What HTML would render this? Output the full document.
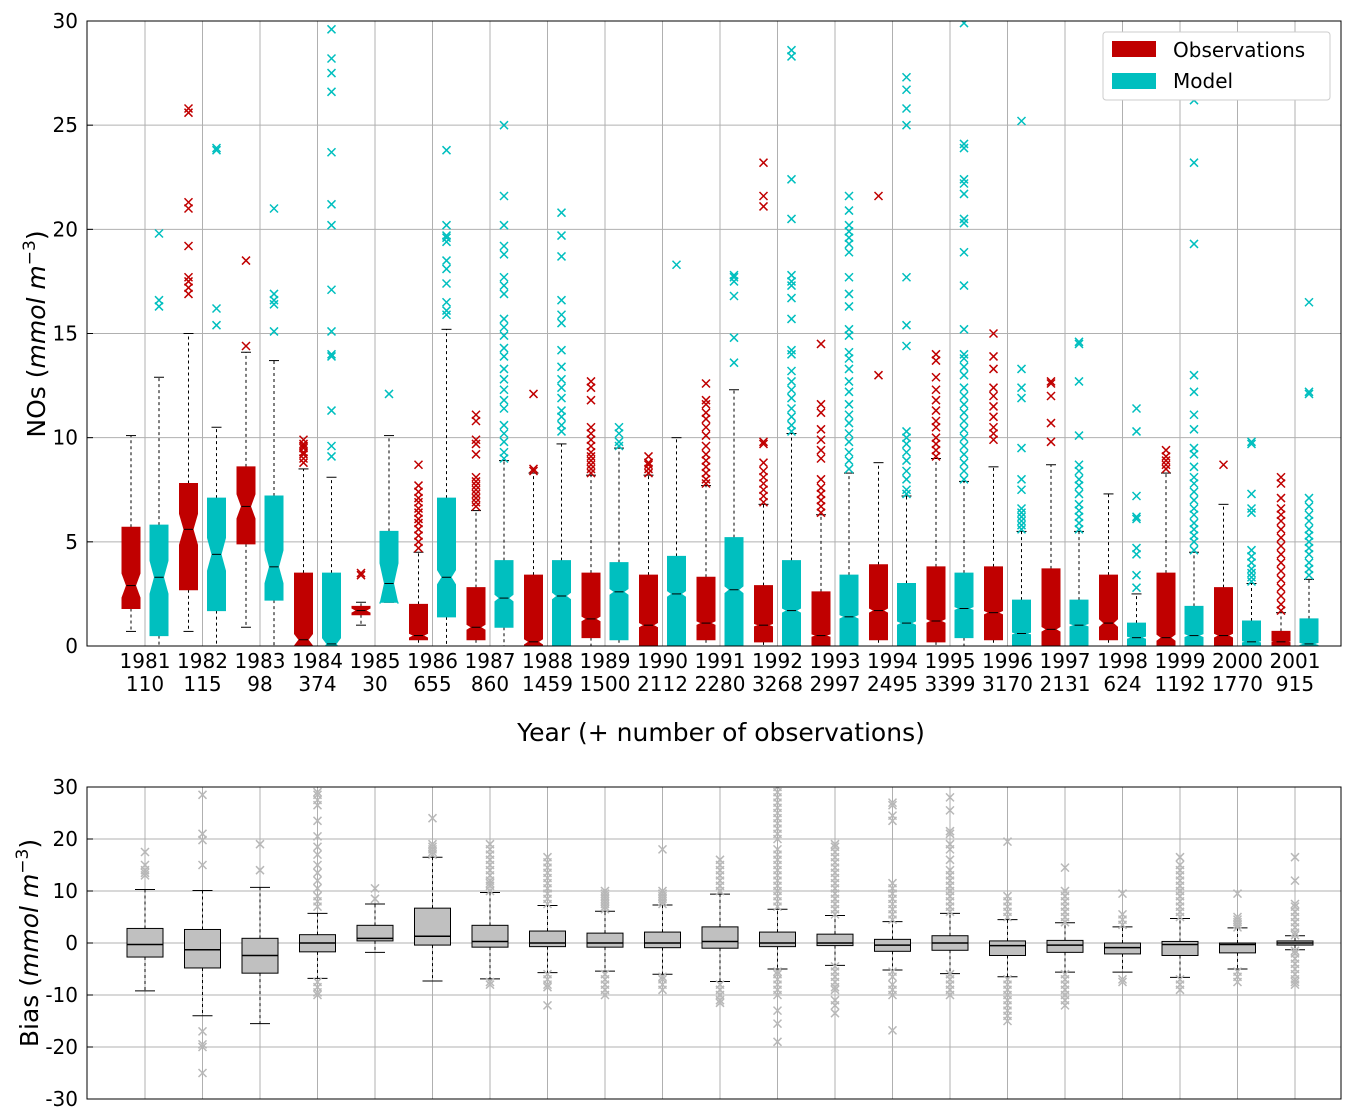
<!DOCTYPE html>
<html><head><meta charset="utf-8">
<style>
body{margin:0;background:#fff;}
svg{display:block;font-family:"DejaVu Sans","Liberation Sans",sans-serif;}
</style></head>
<body>
<svg id="chart" width="1356" height="1120" viewBox="0 0 1356 1120" xmlns="http://www.w3.org/2000/svg">
<defs>
<clipPath id="clipTop"><rect x="87" y="21" width="1254" height="625"/></clipPath>
<clipPath id="clipBot"><rect x="87" y="787" width="1254" height="312"/></clipPath>
</defs>
<g id="gridTop"></g>
<g id="gridBot"></g>
<g id="marksTop" clip-path="url(#clipTop)"></g>
<g id="marksBot" clip-path="url(#clipBot)"></g>
<rect x="87" y="21" width="1254" height="625" fill="none" stroke="#000" stroke-width="1"/>
<rect x="87" y="787" width="1254" height="312" fill="none" stroke="#000" stroke-width="1"/>
<g id="axesText"></g>
<text x="721" y="741" font-size="25" text-anchor="middle">Year (+ number of observations)</text>
<text transform="translate(45,334) rotate(-90)" font-size="25" text-anchor="middle">NOs (<tspan font-style="italic">mmol m</tspan><tspan font-size="17" dy="-10">−3</tspan><tspan dy="10">)</tspan></text>
<text transform="translate(38,943) rotate(-90)" font-size="25" text-anchor="middle">Bias (<tspan font-style="italic">mmol m</tspan><tspan font-size="17" dy="-10">−3</tspan><tspan dy="10">)</tspan></text>
<g>
<rect x="1103" y="32" width="227" height="68" rx="3" fill="#fff" stroke="#ccc"/>
<rect x="1112" y="41" width="44" height="16" fill="#c00000"/>
<text x="1173" y="57" font-size="20">Observations</text>
<rect x="1112" y="73" width="44" height="16" fill="#00bfbf"/>
<text x="1173" y="88" font-size="20">Model</text>
</g>
</svg>
<script>
const years=[1981,1982,1983,1984,1985,1986,1987,1988,1989,1990,1991,1992,1993,1994,1995,1996,1997,1998,1999,2000,2001];
const nobs=[110,115,98,374,30,655,860,1459,1500,2112,2280,3268,2997,2495,3399,3170,2131,624,1192,1770,915];
const topTicks=[0,5,10,15,20,25,30];
const botTicks=[-30,-20,-10,0,10,20,30];

const obsLo=[0.7,0.7,0.9,0,1.0,0,0,0,0,0,0,0,0,0,0,0,0,0,0,0,0];
const obsQ1=[1.8,2.7,4.9,0,1.5,0.3,0.3,0,0.4,0,0.3,0.2,0,0.3,0.2,0.3,0,0.3,0,0,0];
const obsMed=[2.9,5.6,6.7,0.3,1.7,0.5,0.9,0.2,1.3,1.0,1.1,1.0,0.5,1.7,1.2,1.6,0.8,1.1,0.4,0.5,0.2];
const obsQ3=[5.7,7.8,8.6,3.5,1.9,2.0,2.8,3.4,3.5,3.4,3.3,2.9,2.6,3.9,3.8,3.8,3.7,3.4,3.5,2.8,0.7];
const obsHi=[10.1,15.0,14.1,8.5,2.1,4.5,6.5,8.3,8.2,8.2,7.7,6.8,6.3,8.8,9.0,8.6,8.7,7.3,8.3,6.8,1.6];
const obsOut=[[],[16.9,17.2,17.5,17.7,19.2,21.0,21.3,25.6,25.8],[14.4,18.5],[8.8,9.0,9.2,9.3,9.5,9.6,9.7,9.9],[3.4,3.5],
[4.7,5.0,5.3,5.6,5.9,6.1,6.4,6.6,6.9,7.1,7.4,7.7,8.7],[6.7,6.9,7.1,7.3,7.5,7.7,7.9,8.1,9.2,9.7,9.9,10.8,11.1],[8.4,8.5,12.1],
[8.3,8.5,8.7,8.9,9.1,9.3,9.6,9.9,10.2,10.5,11.8,12.4,12.7],[8.3,8.5,8.7,8.8,9.1],
[7.8,8.0,8.3,8.6,8.9,9.2,9.6,10.1,10.5,10.9,11.2,11.6,11.8,12.6],[6.9,7.2,7.5,7.8,8.1,8.4,8.8,9.7,9.8,21.1,21.6,23.2],
[6.4,6.7,7.0,7.3,7.6,8.0,9.0,9.4,9.9,10.4,11.2,11.6,14.5],[13.0,21.6],[9.1,9.4,9.7,10.0,10.5,10.8,11.3,11.8,12.3,12.9,13.7,14.0],
[9.9,10.2,10.5,11.0,11.5,12.0,12.4,13.3,13.9,15.0],[9.8,10.7,12.0,12.6,12.7],[],[8.5,8.7,8.9,9.1,9.4],[8.7],
[1.7,2.0,2.4,2.8,3.2,3.6,4.0,4.4,4.8,5.2,5.6,6.0,6.3,6.6,7.1,7.8,8.1]];

const modLo=[0,0,0,0,2.1,0,0,0,0,0,0,0,0,0,0,0,0,0,0,0,0];
const modQ1=[0.5,1.7,2.2,0,2.1,1.4,0.9,0,0.3,0,0,0,0,0,0.4,0,0,0,0,0,0];
const modMed=[3.3,4.4,3.8,0.1,3.0,3.3,2.3,2.4,2.6,2.5,2.7,1.7,1.4,1.1,1.8,0.6,1.0,0.4,0.5,0.2,0.1];
const modQ3=[5.8,7.1,7.2,3.5,5.5,7.1,4.1,4.1,4.0,4.3,5.2,4.1,3.4,3.0,3.5,2.2,2.2,1.1,1.9,1.2,1.3];
const modHi=[12.9,10.5,13.7,8.1,10.1,15.2,8.9,9.7,9.5,10.0,12.3,10.2,8.3,7.2,7.9,5.5,5.5,2.5,4.5,3.0,3.2];
const modOut=[[16.3,16.6,19.8],[15.4,16.2,23.8,23.9],[15.1,16.4,16.6,16.9,21.0],
[9.1,9.6,11.3,13.9,14.0,15.1,17.1,20.2,21.2,23.7,26.6,27.5,28.2,29.6],[12.1],
[15.9,16.1,16.5,17.4,18.1,18.5,19.4,19.6,19.7,20.2,23.8],
[9.0,9.3,9.8,10.2,10.6,11.4,11.8,12.3,12.8,13.3,13.9,14.3,14.9,15.3,15.7,16.9,17.3,17.7,18.8,19.2,20.2,21.6,25.0],
[10.3,10.6,11.0,11.3,11.9,12.4,12.8,13.4,14.2,15.5,15.9,16.6,18.7,19.7,20.8],[9.6,9.8,10.2,10.5],[18.3],
[13.6,14.8,16.8,17.5,17.7,17.8],
[10.3,10.6,11.0,11.4,11.9,12.3,12.7,13.2,14.0,14.2,15.7,16.7,17.3,17.5,17.8,20.5,22.4,28.3,28.6],
[8.5,8.9,9.3,9.8,10.2,10.7,11.1,11.6,12.2,12.7,13.3,13.8,14.1,14.9,15.2,16.3,16.9,17.7,18.9,19.3,19.6,19.9,20.2,20.9,21.6],
[7.3,7.5,8.0,8.4,8.9,9.3,9.7,10.0,10.3,14.4,15.4,17.7,25.0,25.8,26.7,27.3],
[8.0,8.4,8.8,9.2,9.6,10.0,10.4,10.8,11.2,11.6,12.0,12.4,13.0,13.4,13.8,14.0,15.2,17.3,18.9,20.3,20.5,21.7,22.2,22.4,23.9,24.1,29.9],
[5.6,5.8,6.0,6.2,6.4,6.6,7.5,8.0,9.5,11.9,12.4,13.3,25.2],
[5.6,5.9,6.2,6.5,6.8,7.3,7.7,8.0,8.4,8.7,10.1,12.7,14.5,14.6],
[2.8,3.4,4.4,4.7,6.1,6.2,7.2,10.3,11.4],
[4.6,5.0,5.3,5.6,5.9,6.3,6.6,7.0,7.4,7.8,8.1,8.6,9.2,9.5,10.4,11.1,12.2,13.0,19.3,23.2,26.2],
[3.1,3.3,3.5,3.7,4.0,4.3,4.6,6.4,6.6,7.3,9.7,9.8],
[3.4,3.7,4.0,4.4,4.7,5.0,5.3,5.6,6.0,6.3,6.7,7.1,12.1,12.2,16.5]];

const biasLo=[-9.2,-14,-15.5,-6.8,-1.8,-7.3,-6.9,-5.7,-5.4,-6,-7.4,-5,-4.3,-5.2,-5.9,-6.5,-5.6,-5.6,-6.6,-5,-1.3];
const biasQ1=[-2.7,-4.8,-5.8,-1.7,0.4,-0.4,-0.8,-0.7,-0.8,-0.9,-1,-0.7,-0.5,-1.6,-1.4,-2.4,-1.8,-2.1,-2.4,-1.9,-0.4];
const biasMed=[-0.3,-1.3,-2.4,0,0.9,1.3,0.3,0,0,0,0.3,0,0,-0.4,0,-0.5,-0.4,-0.9,-0.3,-0.3,0];
const biasQ3=[2.8,2.6,0.9,1.6,3.4,6.7,3.4,2.3,1.9,2.1,3.1,2.1,1.7,0.7,1.4,0.4,0.5,0,0.3,0,0.4];
const biasHi=[10.3,10.1,10.7,5.7,7.5,16.5,9.7,7.2,6.1,7.3,9.4,6.5,5.3,4.1,5.7,4.5,3.9,3.1,4.7,2.9,1.4];
const biasOut=[[13,13.5,14,15,17.5],[15,19.8,21,28.5,-17,-19.5,-20,-25],[14,19],
[7,8,9,10.5,12,13.5,15,17,18.5,20.5,23.5,26.5,27.5,28.5,29,-7.5,-8.5,-9.5,-10],[8.5,10.5],[17,17.5,18,18.5,19,24],
[10,11,11.5,12,13,14,15,16,17,18,19,-7.5,-8],
[7.5,8.5,9.5,10.5,11.5,12.5,13.5,14.5,15.5,16.5,-6,-7,-8,-8.5,-12],
[6.5,7,7.5,8,8.5,9,9.5,10,-6,-7,-8,-9,-10],[7.5,8,8.5,9,9.5,10,18,-6.5,-7,-8,-9],
[10,11,12,13,14,15,16,-8,-9,-10,-11,-11.5],
[7,8,9,10,11,12,13,14,15,16,17,18,20,21,22,23,24,25,26,27,28,29,30,-5.5,-6,-7,-8,-9,-10,-13,-15.5,-19],
[5.5,6.5,7.5,8.5,9.5,10.5,11.5,12.5,13.5,14.5,15.5,16.5,17.5,18.5,19,-4.5,-5.5,-6.5,-7.5,-8.5,-9,-11,-12,-13.5],
[4.5,5.5,6.5,7.5,8.5,9.5,10.5,11.5,23.5,24.5,26.5,27,-5.5,-6.5,-8,-9,-10,-16.8],
[6,7,8,9,10,11,12,13,14,16,18,19,21,21.5,25.5,28,-6,-7,-8,-9,-10],
[5,6,7,8,9,19.5,-7,-8,-9,-10,-11,-12,-13,-14,-15],
[4,5,6,7,8,9,10,14.5,-6,-7,-8,-9,-10,-11,-12],[3.5,4.5,5.5,9.5,-7,-7.5],
[5,6,7,8,9,10,11,12,13,14,15,16.5,-7,-8,-9],[3,3.5,4,4.5,5,9.5,-5.5,-6.5,-7.5],
[1.5,2,3,4,5,6,7,7.5,12,16.5,-1.5,-2,-3,-4,-5,-6,-7,-7.5,-8]];

const NS="http://www.w3.org/2000/svg";
function xPos(i){return 145+i*57.5;}
function yTop(v){return 646-v*(625/30);}
function yBot(v){return 943-v*(312/60);}
function mk(tag,attrs,parent){const e=document.createElementNS(NS,tag);for(const k in attrs)e.setAttribute(k,attrs[k]);parent.appendChild(e);return e;}

const gT=document.getElementById('gridTop'),gB=document.getElementById('gridBot');
const mT=document.getElementById('marksTop'),mB=document.getElementById('marksBot');
const ax=document.getElementById('axesText');

years.forEach((yr,i)=>{
  const x=xPos(i);
  let l=mk('line',{x1:x,x2:x,y1:21,y2:646,stroke:'#b0b0b0','stroke-width':1},gT);
  
  
  l=mk('line',{x1:x,x2:x,y1:787,y2:1099,stroke:'#b0b0b0','stroke-width':1},gB);
  
  
  let t=mk('text',{x:x,y:668,'font-size':20,'text-anchor':'middle'},ax);
  t.textContent=yr;
  
  
  t=mk('text',{x:x,y:691,'font-size':20,'text-anchor':'middle'},ax);
  t.textContent=nobs[i];
  
  
});
topTicks.forEach(v=>{
  const y=yTop(v);
  let l=mk('line',{x1:87,x2:1341,y1:y,y2:y,stroke:'#b0b0b0','stroke-width':1},gT);
  
  
  mk('line',{x1:87,x2:93,y1:y,y2:y,stroke:'#000'},ax);
  let t=mk('text',{x:78,y:y+7,'font-size':20,'text-anchor':'end'},ax);
  t.textContent=v;
  
  
});
botTicks.forEach(v=>{
  const y=yBot(v);
  let l=mk('line',{x1:87,x2:1341,y1:y,y2:y,stroke:'#b0b0b0','stroke-width':1},gB);
  
  
  mk('line',{x1:87,x2:93,y1:y,y2:y,stroke:'#000'},ax);
  let t=mk('text',{x:78,y:y+7,'font-size':20,'text-anchor':'end'},ax);
  t.textContent=v;
  
  
});

function drawBox(parent,cx,w,cap,ys,lo,q1,med,q3,hi,outs,fill,ocol,notchN,name){
  const g=mk('g',{},parent);
  
  
  mk('line',{x1:cx,x2:cx,y1:ys(q3),y2:ys(hi),stroke:'#000','stroke-dasharray':'3,3'},g);
  mk('line',{x1:cx,x2:cx,y1:ys(q1),y2:ys(lo),stroke:'#000','stroke-dasharray':'3,3'},g);
  mk('line',{x1:cx-cap/2,x2:cx+cap/2,y1:ys(hi),y2:ys(hi),stroke:'#000'},g);
  mk('line',{x1:cx-cap/2,x2:cx+cap/2,y1:ys(lo),y2:ys(lo),stroke:'#000'},g);
  const L=cx-w/2,R=cx+w/2;
  if(notchN){
    const d=1.57*(q3-q1)/Math.sqrt(notchN);
    const nlo=med-d,nhi=med+d;
    const pts=[[L,q1],[R,q1],[R,nlo],[R-w/4,med],[R,nhi],[R,q3],[L,q3],[L,nhi],[L+w/4,med],[L,nlo]]
      .map(p=>p[0]+','+ys(p[1])).join(' ');
    mk('polygon',{points:pts,fill:fill,stroke:fill},g);
    mk('line',{x1:L+w/4,x2:R-w/4,y1:ys(med),y2:ys(med),stroke:'#000','stroke-width':1},g);
  } else {
    mk('rect',{x:L,y:ys(q3),width:w,height:ys(q1)-ys(q3),fill:fill,stroke:'#000'},g);
    mk('line',{x1:L,x2:R,y1:ys(med),y2:ys(med),stroke:'#000','stroke-width':1.5},g);
  }
  outs.forEach(v=>{
    const y=ys(v);
    mk('path',{d:`M${cx-4},${y-4}L${cx+4},${y+4}M${cx-4},${y+4}L${cx+4},${y-4}`,stroke:ocol,'stroke-width':1.5,fill:'none'},g);
  });
}

years.forEach((yr,i)=>{
  const x=xPos(i);
  drawBox(mT,x-14,18,10,yTop,obsLo[i],obsQ1[i],obsMed[i],obsQ3[i],obsHi[i],obsOut[i],'#c00000','#c00000',nobs[i],'obs-box-'+yr);
  drawBox(mT,x+14,18,10,yTop,modLo[i],modQ1[i],modMed[i],modQ3[i],modHi[i],modOut[i],'#00bfbf','#00bfbf',nobs[i],'model-box-'+yr);
  drawBox(mB,x,36,20,yBot,biasLo[i],biasQ1[i],biasMed[i],biasQ3[i],biasHi[i],biasOut[i],'#c0c0c0','#b8b8b8',0,'bias-box-'+yr);
});
</script>
</body></html>
